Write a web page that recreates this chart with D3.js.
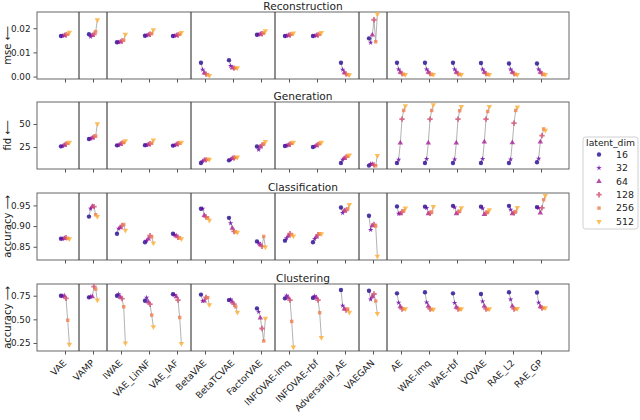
<!DOCTYPE html>
<html>
<head>
<meta charset="utf-8">
<script src="https://cdnjs.cloudflare.com/ajax/libs/d3/7.8.5/d3.min.js"></script>
<style>
  body { margin: 0; background: #fff; }
  text { font-family: "DejaVu Sans", sans-serif; fill: #222; }
</style>
</head>
<body>
<svg id="chart" width="640" height="420"></svg>
<script>
const models = ["VAE", "VAMP", "IWAE", "VAE_LinNF", "VAE_IAF", "BetaVAE", "BetaTCVAE",
  "FactorVAE", "INFOVAE-imq", "INFOVAE-rbf", "Adversarial_AE", "VAEGAN", "AE", "WAE-imq",
  "WAE-rbf", "VQVAE", "RAE_L2", "RAE_GP"];
const latentDims = [16, 32, 64, 128, 256, 512];

// one row per model, one value per latent dim
const mse = [
  [0.0168, 0.0168, 0.0170, 0.0172, 0.0175, 0.0183],
  [0.0175, 0.0165, 0.0170, 0.0175, 0.0186, 0.0235],
  [0.0142, 0.0142, 0.0143, 0.0147, 0.0151, 0.0175],
  [0.0169, 0.0170, 0.0172, 0.0175, 0.0178, 0.0193],
  [0.0168, 0.0168, 0.0170, 0.0172, 0.0175, 0.0182],
  [0.0057, 0.0029, 0.0015, 0.0010, 0.0008, 0.0004],
  [0.0068, 0.0044, 0.0036, 0.0035, 0.0035, 0.0036],
  [0.0173, 0.0173, 0.0175, 0.0177, 0.0180, 0.0189],
  [0.0168, 0.0168, 0.0170, 0.0172, 0.0175, 0.0180],
  [0.0168, 0.0168, 0.0170, 0.0172, 0.0175, 0.0182],
  [0.0057, 0.0029, 0.0016, 0.0011, 0.0008, 0.0007],
  [0.0158, 0.0140, 0.0172, 0.0235, 0.0144, 0.0258],
  [0.0057, 0.0030, 0.0018, 0.0012, 0.0009, 0.0008],
  [0.0057, 0.0030, 0.0018, 0.0012, 0.0009, 0.0008],
  [0.0057, 0.0030, 0.0018, 0.0012, 0.0009, 0.0008],
  [0.0056, 0.0030, 0.0018, 0.0012, 0.0009, 0.0008],
  [0.0054, 0.0030, 0.0018, 0.0012, 0.0009, 0.0008],
  [0.0054, 0.0030, 0.0018, 0.0012, 0.0009, 0.0008]
];
const fid = [
  [25.7, 26, 27, 28, 29, 30],
  [33.7, 34, 35, 36, 37, 50.3],
  [26.8, 27, 28, 29, 30, 31.8],
  [27, 27, 27.5, 28.5, 29, 32.6],
  [26.5, 26.8, 27.5, 28.5, 29, 30],
  [7.6, 9.5, 10.5, 11, 11.5, 11.5],
  [10.4, 11.5, 12.5, 13, 13.5, 14.1],
  [25.6, 22, 25, 27, 28.5, 31],
  [26, 26.5, 27, 28, 29, 30],
  [25, 25.5, 26.5, 27.5, 29, 30],
  [7.6, 11.2, 12.5, 14, 15, 16.3],
  [4.7, 6.5, 6, 5.5, 4.5, 15.5],
  [7.6, 11.2, 29.3, 55.4, 64.8, 69.9],
  [7.6, 12, 29.3, 55.4, 64.8, 71],
  [7.6, 11.5, 29.3, 55.4, 64.5, 69],
  [7.6, 12, 30.4, 55.4, 63.7, 69],
  [7.6, 11.5, 29.8, 51, 64.8, 68.5],
  [8.3, 12.3, 30.4, 37.3, 44.6, 43]
];
const classAcc = [
  [0.8696, 0.869, 0.870, 0.872, 0.870, 0.869],
  [0.923, 0.942, 0.9476, 0.947, 0.9275, 0.923],
  [0.8816, 0.894, 0.896, 0.901, 0.904, 0.890],
  [0.861, 0.865, 0.869, 0.877, 0.874, 0.859],
  [0.8816, 0.879, 0.876, 0.873, 0.871, 0.869],
  [0.942, 0.942, 0.926, 0.922, 0.920, 0.914],
  [0.920, 0.907, 0.895, 0.887, 0.886, 0.885],
  [0.863, 0.859, 0.855, 0.851, 0.875, 0.8495],
  [0.8647, 0.871, 0.876, 0.8816, 0.879, 0.876],
  [0.861, 0.869, 0.874, 0.879, 0.8816, 0.881],
  [0.945, 0.932, 0.937, 0.938, 0.942, 0.952],
  [0.925, 0.891, 0.901, 0.904, 0.900, 0.827],
  [0.9476, 0.930, 0.930, 0.934, 0.937, 0.9435],
  [0.947, 0.944, 0.930, 0.931, 0.934, 0.947],
  [0.949, 0.945, 0.930, 0.933, 0.936, 0.944],
  [0.947, 0.943, 0.928, 0.931, 0.934, 0.939],
  [0.949, 0.940, 0.930, 0.932, 0.935, 0.945],
  [0.946, 0.944, 0.932, 0.944, 0.9638, 0.974]
];
const clusterAcc = [
  [0.750, 0.745, 0.748, 0.722, 0.491, 0.236],
  [0.733, 0.740, 0.740, 0.846, 0.820, 0.704],
  [0.750, 0.768, 0.735, 0.720, 0.633, 0.250],
  [0.697, 0.730, 0.685, 0.660, 0.545, 0.420],
  [0.765, 0.760, 0.740, 0.704, 0.520, 0.243],
  [0.762, 0.694, 0.694, 0.733, 0.730, 0.654],
  [0.704, 0.710, 0.685, 0.660, 0.633, 0.573],
  [0.616, 0.580, 0.516, 0.403, 0.271, 0.510],
  [0.722, 0.750, 0.730, 0.704, 0.478, 0.207],
  [0.727, 0.745, 0.730, 0.704, 0.570, 0.307],
  [0.810, 0.644, 0.610, 0.598, 0.610, 0.573],
  [0.803, 0.710, 0.740, 0.768, 0.694, 0.562],
  [0.775, 0.676, 0.633, 0.610, 0.610, 0.610],
  [0.787, 0.680, 0.640, 0.610, 0.605, 0.605],
  [0.775, 0.675, 0.630, 0.610, 0.605, 0.610],
  [0.768, 0.690, 0.640, 0.610, 0.605, 0.610],
  [0.787, 0.710, 0.640, 0.610, 0.610, 0.615],
  [0.784, 0.676, 0.633, 0.620, 0.620, 0.623]
];

const panels = [
  { title: "Reconstruction", label: "mse \u27F5", values: mse, domain: [-0.001, 0.0267],
    ticks: [0, 0.01, 0.02], fmt: d3.format(".2f"), top: 12 },
  { title: "Generation", label: "fid \u27F5", values: fid, domain: [1, 74],
    ticks: [25, 50], fmt: d3.format("d"), top: 102 },
  { title: "Classification", label: "accuracy \u27F6", values: classAcc, domain: [0.818, 0.98],
    ticks: [0.85, 0.90, 0.95], fmt: d3.format(".2f"), top: 193 },
  { title: "Clustering", label: "accuracy \u27F6", values: clusterAcc, domain: [0.165, 0.874],
    ticks: [0.25, 0.50, 0.75], fmt: d3.format(".2f"), top: 284 }
];
const separatorsAfter = [0, 1, 4, 7, 10, 11];

const svg = d3.select('#chart');
const left = 37, right = 569, panelH = 67;

const xScale = d3.scalePoint().domain(models).range([left, right]).padding(1);
const step = xScale.step();

const colorScale = d3.scaleOrdinal()
  .domain(latentDims)
  .range([0.03, 0.2, 0.37, 0.53, 0.68, 0.82].map(d3.interpolatePlasma));

const symbolScale = d3.scaleOrdinal()
  .domain(latentDims)
  .range([d3.symbolCircle, d3.symbolStar, d3.symbolTriangle, d3.symbolCross, d3.symbolSquare, d3.symbolTriangle]);
const sizeFor = { 16: 15, 32: 9, 64: 13, 128: 16, 256: 12, 512: 13 };

function dodge(k) { return (k - 2.4) * step * 0.06; }

function markerPath(dim) {
  return d3.symbol().type(symbolScale(dim)).size(sizeFor[dim])();
}

panels.forEach(function (p) {
  const bottom = p.top + panelH;
  const yScale = d3.scaleLinear().domain(p.domain).range([bottom, p.top]);
  const g = svg.append('g');

  // x ticks
  const xAxisG = g.append('g').attr('transform', `translate(0,${bottom})`)
    .call(d3.axisBottom(xScale).tickSize(3.5).tickFormat(''));
  xAxisG.select('.domain').remove();
  xAxisG.selectAll('.tick line').attr('stroke', '#555');

  const yAxisG = g.append('g').attr('transform', `translate(${left},0)`)
    .call(d3.axisLeft(yScale).tickValues(p.ticks).tickFormat(p.fmt).tickSize(3.5).tickPadding(3));
  yAxisG.select('.domain').remove();
  yAxisG.selectAll('.tick line').attr('stroke', '#555');
  yAxisG.selectAll('.tick text').style('font-size', '8.8px').attr('fill', '#222');

  // frame
  g.append('rect')
    .attr('x', left).attr('y', p.top)
    .attr('width', right - left).attr('height', panelH)
    .attr('fill', 'none').attr('stroke', '#666').attr('stroke-width', 1);

  separatorsAfter.forEach(function (i) {
    const sx = xScale(models[i]) + step / 2;
    g.append('line')
      .attr('x1', sx).attr('x2', sx).attr('y1', p.top).attr('y2', bottom)
      .attr('stroke', '#333').attr('stroke-width', 1.1);
  });

  g.append('text')
    .attr('x', (left + right) / 2).attr('y', p.top - 2.5)
    .attr('text-anchor', 'middle')
    .style('font-size', '10.6px')
    .text(p.title);

  g.append('text')
    .attr('transform', `translate(11,${p.top + panelH / 2}) rotate(-90)`)
    .attr('text-anchor', 'middle')
    .style('font-size', '10px')
    .text(p.label);

  const line = d3.line()
    .x(function (d) { return xScale(d.model) + dodge(d.k); })
    .y(function (d) { return yScale(d.value); });

  models.forEach(function (m, i) {
    const pts = p.values[i].map(function (v, k) { return { model: m, k: k, dim: latentDims[k], value: v }; });
    g.append('path')
      .datum(pts)
      .attr('d', line)
      .attr('fill', 'none')
      .attr('stroke', '#a0a0a0')
      .attr('stroke-width', 0.8);

    g.selectAll(null)
      .data(pts)
      .enter()
      .append('path')
      .attr('d', function (d) { return markerPath(d.dim); })
      .attr('transform', function (d) {
        const rot = d.dim === 512 ? ' rotate(180)' : '';
        return `translate(${xScale(d.model) + dodge(d.k)},${yScale(d.value)})${rot}`;
      })
      .attr('fill', function (d) { return colorScale(d.dim); })
      .attr('fill-opacity', 0.8);
  });

  if (p === panels[panels.length - 1]) {
    xAxisG.selectAll('.tick').append('text')
      .attr('transform', 'translate(-3,8) rotate(-45)')
      .attr('text-anchor', 'end')
      .attr('dy', '0.7em')
      .style('font-size', '9.2px')
      .attr('fill', '#222')
      .text(function (d) { return d; });
  }
});

// legend
const legendG = svg.append('g').attr('transform', 'translate(583,137)');
legendG.append('rect')
  .attr('width', 55).attr('height', 92).attr('rx', 2.5)
  .attr('fill', '#fff').attr('stroke', '#d0d0d0');
legendG.append('text')
  .attr('x', 27.5).attr('y', 9)
  .attr('text-anchor', 'middle')
  .style('font-size', '9.2px')
  .text('latent_dim');
const items = legendG.selectAll('.item')
  .data(latentDims)
  .enter()
  .append('g')
  .attr('transform', function (d, i) { return `translate(0,${17.5 + i * 13.4})`; });
items.append('path')
  .attr('d', function (d) { return markerPath(d); })
  .attr('transform', function (d) { return d === 512 ? 'translate(16,0) rotate(180)' : 'translate(16,0)'; })
  .attr('fill', function (d) { return colorScale(d); })
  .attr('fill-opacity', 0.8);
items.append('text')
  .attr('x', 33).attr('dy', '0.35em')
  .style('font-size', '9.4px')
  .text(function (d) { return d; });
</script>
</body>
</html>
